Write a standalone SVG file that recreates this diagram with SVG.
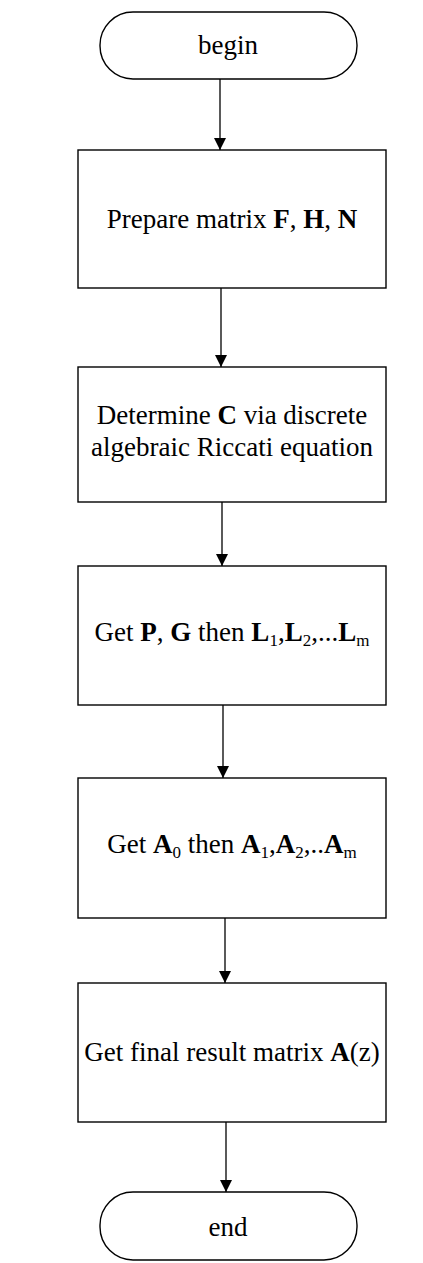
<svg xmlns="http://www.w3.org/2000/svg" width="423" height="1263" viewBox="0 0 423 1263">
<style>
.box{fill:#fff;stroke:#000;stroke-width:1.4}
.t{font-family:"Liberation Serif","Times New Roman",serif;font-size:27px;fill:#000;text-anchor:middle}
.b{font-weight:bold}
.s{font-size:17px}
.c{stroke:#000;stroke-width:1.3;fill:none}
</style>
<defs>
<marker id="arr" markerWidth="12" markerHeight="13" refX="12" refY="6" orient="auto" markerUnits="userSpaceOnUse" viewBox="0 0 12 12">
<path d="M0,0 L12,6 L0,12 Z" fill="#000"/>
</marker>
</defs>
<g id="begin">
<rect class="box" x="100" y="12" width="257" height="67" rx="33" ry="33"/>
<text class="t" x="228" y="54">begin</text>
</g>
<g id="prepare">
<rect class="box" x="78" y="150" width="308" height="138"/>
<text class="t" x="232" y="228">Prepare matrix <tspan class="b">F</tspan>, <tspan class="b">H</tspan>, <tspan class="b">N</tspan></text>
</g>
<g id="determine">
<rect class="box" x="78" y="367" width="308" height="135"/>
<text class="t" x="232" y="424">Determine <tspan class="b">C</tspan> via discrete</text>
<text class="t" x="232" y="456">algebraic Riccati equation</text>
</g>
<g id="getPG">
<rect class="box" x="78" y="566" width="308" height="139"/>
<text class="t" x="232" y="641">Get <tspan class="b">P</tspan>, <tspan class="b">G</tspan> then <tspan class="b">L</tspan><tspan class="s" dy="5">1</tspan><tspan dy="-5">,</tspan><tspan class="b">L</tspan><tspan class="s" dy="5">2</tspan><tspan dy="-5">,...</tspan><tspan class="b">L</tspan><tspan class="s" dy="5">m</tspan></text>
</g>
<g id="getA">
<rect class="box" x="78" y="778" width="308" height="140"/>
<text class="t" x="232" y="853">Get <tspan class="b">A</tspan><tspan class="s" dy="5">0</tspan><tspan dy="-5"> then </tspan><tspan class="b">A</tspan><tspan class="s" dy="5">1</tspan><tspan dy="-5">,</tspan><tspan class="b">A</tspan><tspan class="s" dy="5">2</tspan><tspan dy="-5">,..</tspan><tspan class="b">A</tspan><tspan class="s" dy="5">m</tspan></text>
</g>
<g id="final">
<rect class="box" x="78" y="983" width="308" height="139"/>
<text class="t" x="232" y="1061">Get final result matrix <tspan class="b">A</tspan>(z)</text>
</g>
<g id="end">
<rect class="box" x="100" y="1192" width="257" height="68" rx="33" ry="33"/>
<text class="t" x="228" y="1236">end</text>
</g>
<g id="connectors">
<line class="c" x1="220" y1="79" x2="220" y2="150" marker-end="url(#arr)"/>
<line class="c" x1="221" y1="288" x2="221" y2="367" marker-end="url(#arr)"/>
<line class="c" x1="222" y1="502" x2="222" y2="566" marker-end="url(#arr)"/>
<line class="c" x1="223" y1="705" x2="223" y2="778" marker-end="url(#arr)"/>
<line class="c" x1="225" y1="918" x2="225" y2="983" marker-end="url(#arr)"/>
<line class="c" x1="226" y1="1122" x2="226" y2="1192" marker-end="url(#arr)"/>
</g>
</svg>
